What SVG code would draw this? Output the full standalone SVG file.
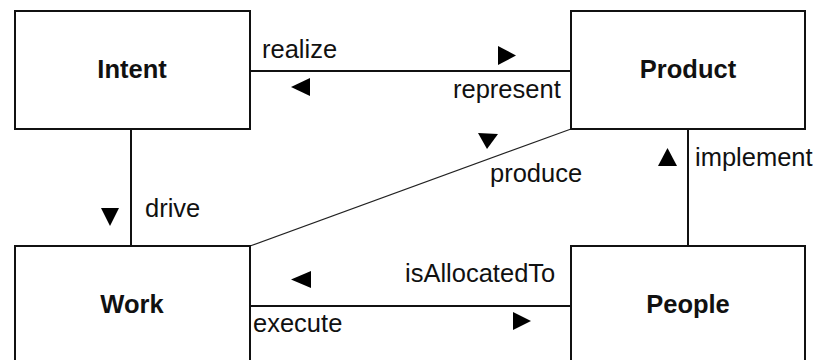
<svg xmlns="http://www.w3.org/2000/svg" width="818" height="360" viewBox="0 0 818 360">
  <style>
    .box { fill: #fff; stroke: #111; stroke-width: 2; }
    .title { font-family: "Liberation Sans", Arial, sans-serif; font-weight: bold; font-size: 25.5px; fill: #111; text-anchor: middle; }
    .lbl { font-family: "Liberation Sans", Arial, sans-serif; font-size: 25.5px; fill: #111; }
    .edge { stroke: #111; stroke-width: 2; fill: none; }
    .thin { stroke: #222; stroke-width: 1.2; fill: none; }
    .dir { fill: #000; }
  </style>
  <rect width="818" height="360" fill="#fff"/>

  <!-- connectors with their role labels and direction marks -->
  <g id="connectors">
    <!-- Intent / Product -->
    <line class="edge" x1="250" y1="71" x2="571" y2="71"/>
    <text class="lbl" x="262" y="58">realize</text>
    <polygon class="dir" points="498,46 516,55.5 498,65"/>
    <text class="lbl" x="453" y="98">represent</text>
    <polygon class="dir" points="310,78 291,87 310,96"/>

    <!-- Intent / Work -->
    <line class="edge" x1="131" y1="129" x2="131" y2="246"/>
    <text class="lbl" x="145" y="217">drive</text>
    <polygon class="dir" points="101,208 119,208 110,226"/>

    <!-- Work / Product -->
    <line class="thin" x1="250" y1="246" x2="571" y2="129"/>
    <polygon class="dir" points="478,133 498,134 487,149"/>
    <text class="lbl" x="490" y="182">produce</text>

    <!-- Product / People -->
    <line class="edge" x1="688" y1="129" x2="688" y2="246"/>
    <polygon class="dir" points="658,166 677,166 667.5,148"/>
    <text class="lbl" x="695" y="166">implement</text>

    <!-- Work / People -->
    <line class="edge" x1="250" y1="306" x2="571" y2="306"/>
    <text class="lbl" x="405" y="282">isAllocatedTo</text>
    <polygon class="dir" points="311,271 291,279.5 311,288"/>
    <text class="lbl" x="253" y="332">execute</text>
    <polygon class="dir" points="513,312 531,321 513,330"/>
  </g>

  <g id="intent">
    <rect class="box" x="15" y="11" width="235" height="118"/>
    <text class="title" x="132" y="78">Intent</text>
  </g>
  <g id="product">
    <rect class="box" x="571" y="11" width="234" height="118"/>
    <text class="title" x="688" y="78">Product</text>
  </g>
  <g id="work">
    <rect class="box" x="15" y="246" width="235" height="140"/>
    <text class="title" x="132" y="313">Work</text>
  </g>
  <g id="people">
    <rect class="box" x="571" y="246" width="234" height="140"/>
    <text class="title" x="688" y="313">People</text>
  </g>
</svg>
